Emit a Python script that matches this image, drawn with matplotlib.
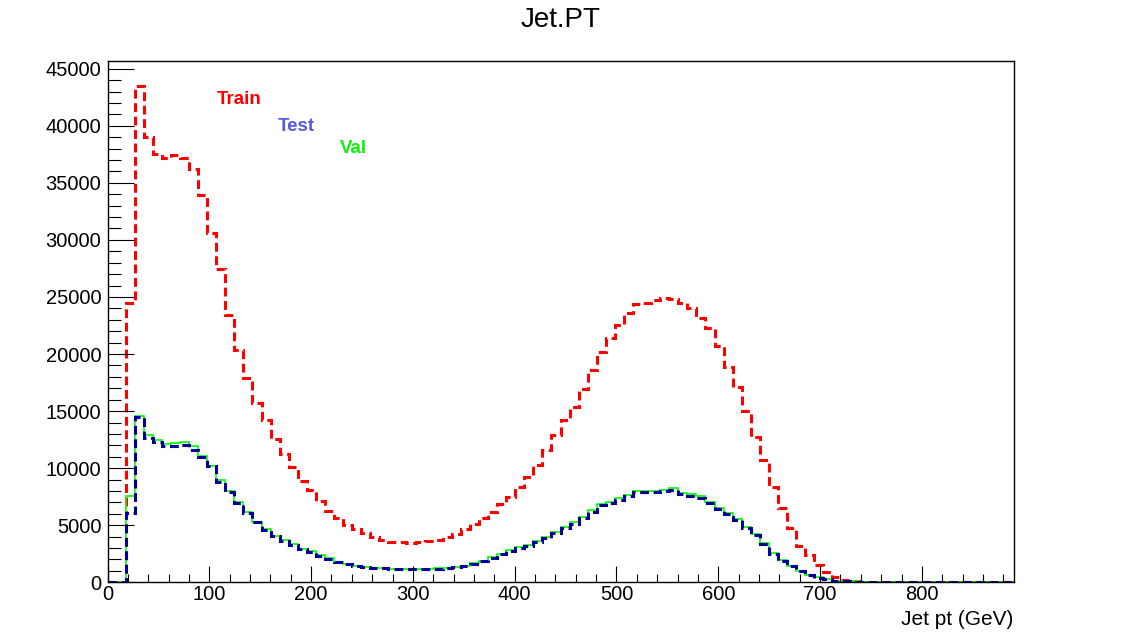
import numpy as np
import matplotlib
matplotlib.use('Agg')
import matplotlib.pyplot as plt
from matplotlib.ticker import MultipleLocator

plt.rcParams['font.family'] = ['Liberation Sans', 'DejaVu Sans']

# 100 bins of jet pt from 0 to 890 GeV
n_bins = 100
x_max = 890.0

train = [0, 0, 24500, 43500, 39000, 37500, 37200, 37450, 37200, 36200,
         33900, 30600, 27450, 23400, 20350, 17900, 15700, 14200, 12550, 11250,
         10100, 8900, 8100, 7150, 6250, 5600, 5050, 4650, 4300, 4000,
         3750, 3570, 3500, 3480, 3500, 3580, 3750, 3980, 4250, 4650,
         5150, 5650, 6200, 6850, 7450, 8330, 9260, 10290, 11550, 12920,
         14180, 15400, 16930, 18620, 20140, 21400, 22570, 23600, 24400, 24500,
         24700, 24910, 24820, 24475, 24035, 23160, 22280, 20670, 18860, 17150,
         14970, 12720, 10730, 8390, 6490, 4740, 3215, 2350, 1480, 900,
         500, 200, 110, 70, 55, 45, 40, 38, 35, 33,
         30, 30, 28, 26, 25, 24, 22, 20, 20, 18]

val = [0, 0, 7600, 14530, 12920, 12480, 12160, 12200, 12250, 11900,
       11100, 10200, 8920, 8040, 7020, 6140, 5300, 4660, 4100, 3680,
       3330, 2950, 2720, 2350, 2100, 1810, 1610, 1460, 1370, 1290,
       1230, 1170, 1160, 1150, 1160, 1170, 1220, 1250, 1330, 1450,
       1650, 1900, 2190, 2500, 2800, 3070, 3270, 3650, 4000, 4440,
       4825, 5260, 5755, 6340, 6870, 7070, 7370, 7660, 8035, 8035,
       8035, 8100, 8245, 7810, 7700, 7540, 7070, 6545, 6105, 5525,
       4880, 4235, 3420, 2540, 1955, 1430, 1020, 640, 435, 260,
       150, 120, 80, 60, 45, 40, 35, 30, 28, 25,
       22, 20, 18, 16, 15, 14, 12, 10, 10, 8]

test = [0, 0, 6050, 14450, 12650, 12250, 11900, 11950, 12000, 11600,
        10950, 10150, 8800, 7950, 6950, 6100, 5250, 4600, 4050, 3650,
        3300, 2920, 2690, 2330, 2080, 1790, 1590, 1440, 1350, 1270,
        1210, 1160, 1150, 1140, 1150, 1160, 1200, 1230, 1300, 1420,
        1620, 1860, 2130, 2450, 2760, 3000, 3200, 3560, 3900, 4330,
        4720, 5150, 5650, 6200, 6750, 6950, 7250, 7550, 7880, 7920,
        7950, 8000, 8050, 7720, 7560, 7380, 6950, 6420, 6000, 5450,
        4800, 4150, 3350, 2480, 1900, 1400, 1000, 620, 420, 250,
        140, 115, 70, 55, 42, 38, 32, 28, 26, 24,
        20, 18, 17, 15, 14, 13, 11, 10, 9, 8]

edges = np.linspace(0, x_max, n_bins + 1)

W, H = 1122, 642
fig = plt.figure(figsize=(W / 100, H / 100), dpi=100)
ax = fig.add_axes([107.5 / W, 1 - 582.3 / H, (1013.5 - 107.5) / W, (582.3 - 61) / H])

dash = (0, (2.9, 1.5))
ax.stairs(train, edges, color='#ff0000', linewidth=2.2, linestyle=dash)
ax.stairs(val, edges, color='#00ff00', linewidth=1.2)
ax.stairs(test, edges, color='#000099', linewidth=2.2, linestyle=dash)

ax.set_xlim(0, x_max)
ax.set_ylim(0, 1.05 * max(train))

ax.xaxis.set_major_locator(MultipleLocator(100))
ax.xaxis.set_minor_locator(MultipleLocator(20))
ax.yaxis.set_major_locator(MultipleLocator(5000))
ax.yaxis.set_minor_locator(MultipleLocator(1000))

ax.tick_params(axis='both', which='both', direction='in', top=False, right=False,
               labelsize=14.5, width=0.8, colors='black')
ax.tick_params(axis='y', which='major', length=18.7, pad=4.5)
ax.tick_params(axis='y', which='minor', length=9.4)
ax.tick_params(axis='x', which='major', length=11.2, pad=2)
ax.tick_params(axis='x', which='minor', length=5.6)
for sp in ax.spines.values():
    sp.set_linewidth(1.0)

ax.set_xlabel('Jet pt (GeV)', fontsize=15)
ax.xaxis.set_label_coords(1.0, -0.0705)
ax.xaxis.label.set_horizontalalignment('right')
ax.xaxis.label.set_verticalalignment('center')

fig.text(0.5, 1 - 20 / H, 'Jet.PT', ha='center', va='center', fontsize=20)

fig.text(216.7 / W, 1 - 103.7 / H, 'Train', color='#ff0000', fontsize=13.5,
         fontweight='bold', ha='left', va='baseline')
fig.text(277.7 / W, 1 - 131.4 / H, 'Test', color='#5858d8', fontsize=13.5,
         fontweight='bold', ha='left', va='baseline')
fig.text(340.0 / W, 1 - 152.7 / H, 'Val', color='#11ee11', fontsize=13.5,
         fontweight='bold', ha='left', va='baseline')

fig.savefig('out.png', dpi=100)
